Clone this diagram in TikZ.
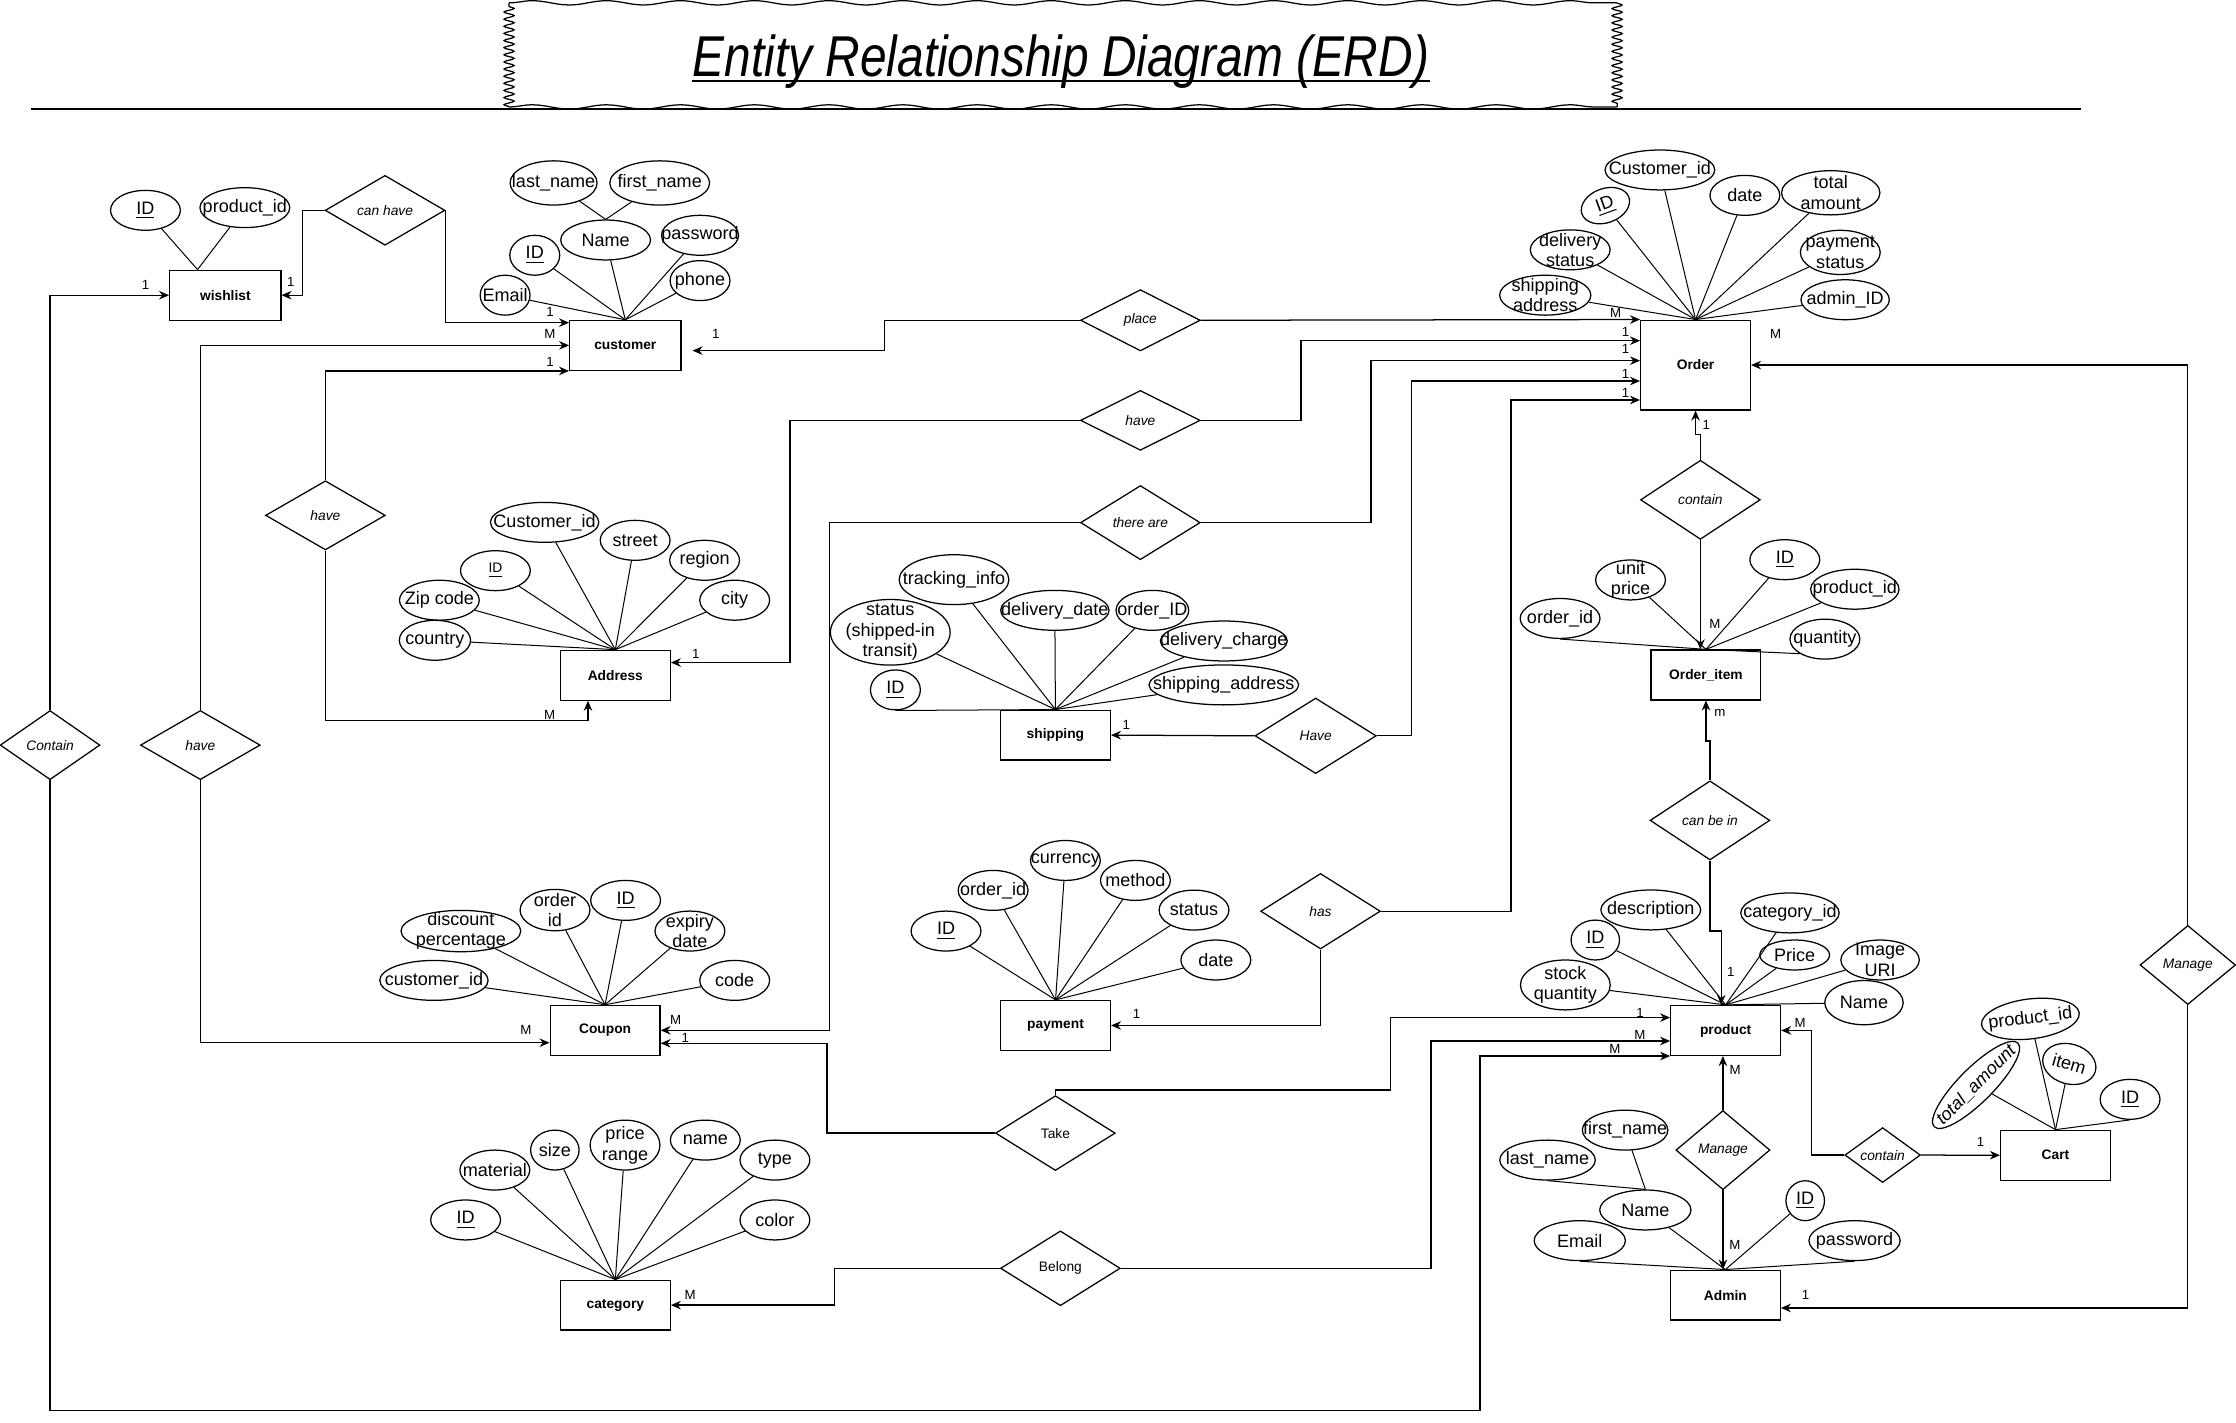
\documentclass[tikz,border=0pt]{standalone}
\usepackage{fontspec}
\setmainfont{Liberation Sans}
\usepackage{graphicx}
\usetikzlibrary{shapes.geometric, arrows.meta, decorations.pathmorphing}

\begin{document}
\begin{tikzpicture}[
        x=0.02cm, y=-0.02cm,
        line width=0.5pt,
        entity/.style={draw, rectangle, inner sep=0pt,
            minimum width=1.54cm, minimum height=0.7cm,
            font=\fontsize{5.5}{6}\selectfont\bfseries},
        rel/.style={draw, diamond, aspect=2, inner sep=-0.6cm,
            minimum width=1.68cm, minimum height=0.98cm,
            font=\fontsize{5.5}{6}\selectfont\itshape},
        att/.style={draw, ellipse, inner sep=-0.6cm,
            minimum width=0.98cm, minimum height=0.56cm,
            align=center, font=\fontsize{7.2}{8.2}\selectfont},
        card/.style={inner sep=0pt, font=\fontsize{5.3}{6}\selectfont},
        conn/.style={-{Stealth[length=4pt,width=3.4pt]}},
        attline/.style={line width=0.4pt}
    ]
    \useasboundingbox (0,0) rectangle (1568,997.2);

    \draw[decorate, decoration={snake, segment length=0.1cm, amplitude=0.07cm}] (357,75) -- (357,2);
    \draw[decorate, decoration={snake, segment length=0.1cm, amplitude=0.07cm}] (1134,2) -- (1134,75);
    \draw[decorate, decoration={snake, segment length=1.04cm, amplitude=0.03cm}] (357,2) -- (1134,2);
    \draw[decorate, decoration={snake, segment length=1.04cm, amplitude=0.03cm}] (357,75) -- (1134,75);
    \draw[line width=0.9pt] (22,76.5) -- (1459,76.5);
    \node[anchor=base, inner sep=0pt, font=\fontsize{23}{26}\selectfont\itshape] (title) at (744,54)
        {\scalebox{0.83}[1]{Entity Relationship Diagram (ERD)}};
    \draw[line width=1.1pt] ([yshift=-1.6pt]title.base west) -- ([yshift=-1.6pt]title.base east);

    \node[entity, minimum width=1.56cm] (wish) at (158,207) {wishlist};
    \node[entity, minimum width=1.56cm] (cust) at (438.5,242.2) {customer};
    \node[entity, minimum height=1.26cm] (ord) at (1189,256) {Order};
    \node[entity] (addr) at (431.5,473.5) {Address};
    \node[entity] (ship) at (740.1,515.5) {shipping};
    \node[entity] (item) at (1196.3,473.3) {Order\_item};
    \node[entity] (coup) at (424.3,722.5) {Coupon};
    \node[entity] (pay) at (740.2,719.1) {payment};
    \node[entity] (prod) at (1210.1,722.6) {product};
    \node[entity] (cat) at (431.5,915.2) {category};
    \node[entity] (adm) at (1209.9,908.2) {Admin};
    \node[entity] (cart) at (1441.4,810.1) {Cart};

    \node[rel] (canhave) at (270,147.5) {can have};
    \node[rel, minimum height=0.86cm] (place) at (799.7,224.6) {place};
    \node[rel, minimum height=0.84cm] (have1) at (799.7,294.8) {have};
    \node[rel, minimum height=1.04cm] (there) at (799.7,366.5) {there are};
    \node[rel, minimum width=1.7cm, minimum height=1.06cm] (have2) at (922.6,516) {Have};
    \node[rel, minimum height=1.06cm] (has) at (926,639) {has};
    \node[rel, minimum height=1.11cm] (contain1) at (1192.4,350.5) {contain};
    \node[rel, minimum height=1.11cm] (canbe) at (1199.1,575.3) {can be in};
    \node[rel, minimum width=1.34cm, minimum height=1.11cm] (manage1) at (1534.2,676.7) {Manage};
    \node[rel, minimum width=1.32cm, minimum height=1.11cm] (manage2) at (1208.2,806.5) {Manage};
    \node[rel, minimum width=1.06cm, minimum height=0.77cm] (contain2) at (1320.2,810) {contain};
    \node[rel, minimum height=1.05cm, font=\fontsize{5.5}{6}\selectfont] (take) at (740.1,794.6) {Take};
    \node[rel, minimum height=1.05cm, font=\fontsize{5.5}{6}\selectfont] (belong) at (743.6,889.4) {Belong};
    \node[rel, minimum width=1.4cm, minimum height=0.97cm] (contain3) at (35.1,522.5) {Contain};
    \node[rel, minimum height=0.97cm] (have3) at (140.5,522.5) {have};
    \node[rel, minimum height=0.97cm] (have4) at (228.2,361.4) {have};

    \node[att] (wID) at (102,147.5) {\underline{ID}};
    \node[att, minimum width=1.26cm] (wPid) at (171.7,145.6) {product\_id};

    \node[att, minimum width=1.22cm, minimum height=0.62cm] (cLast) at (388.2,128.3) {last\_name};
    \node[att, minimum width=1.4cm, minimum height=0.62cm] (cFirst) at (462.6,128.3) {first\_name};
    \node[att, minimum width=1.26cm] (cName) at (424.7,168.3) {Name};
    \node[att, minimum width=1.08cm] (cPass) at (490.9,165) {password};
    \node[att, minimum width=0.7cm] (cID) at (375,179) {\underline{ID}};
    \node[att, minimum width=0.84cm] (cPhone) at (490.9,196.8) {phone};
    \node[att, minimum width=0.7cm] (cEmail) at (354.2,207) {Email};

    \node[att, minimum width=1.54cm] (oCid) at (1164,119.2) {Customer\_id};
    \node[att, rotate=20, minimum width=0.7cm, minimum height=0.48cm] (oID) at (1125.8,144.2) {\underline{ID}};
    \node[att] (oDate) at (1223.6,137) {date};
    \node[att, minimum width=1.38cm, minimum height=0.62cm] (oTotal) at (1283.8,135.2) {total\\amount};
    \node[att, minimum width=1.12cm] (oDel) at (1101.1,175.2) {delivery\\status};
    \node[att, minimum width=1.12cm, minimum height=0.62cm] (oPay) at (1290.5,177) {payment\\status};
    \node[att, minimum width=1.28cm] (oShip) at (1083.6,207) {shipping\\address};
    \node[att, minimum width=1.24cm] (oAdmin) at (1293.9,210.2) {admin\_ID};

    \node[att, minimum width=1.52cm] (aCid) at (381.9,366.3) {Customer\_id};
    \node[att] (aStreet) at (445.4,378.9) {street};
    \node[att] (aRegion) at (494.1,392.9) {region};
    \node[att] (aCity) at (515.2,420.9) {city};
    \node[att, font=\fontsize{5.5}{6}\selectfont] (aID) at (347.4,400.2) {\underline{ID}};
    \node[att, minimum width=1.12cm] (aZip) at (308.1,420.9) {Zip code};
    \node[att, minimum width=1cm] (aCountry) at (305,449) {country};

    \node[att, minimum width=1.54cm, minimum height=0.7cm] (sTrack) at (669,406.5) {tracking\_info};
    \node[att, minimum width=1.68cm, minimum height=0.92cm] (sStatus) at (624.3,443.4) {status\\(shipped-in\\transit)};
    \node[att, minimum width=1.52cm] (sDate) at (739.7,428) {delivery\_date};
    \node[att, minimum width=1.02cm] (sOrder) at (808.1,428) {order\_ID};
    \node[att, minimum width=1.78cm] (sCharge) at (858.2,449.5) {delivery\_charge};
    \node[att, minimum width=2.1cm] (sAddr) at (858.2,480.3) {shipping\_address};
    \node[att, minimum width=0.7cm] (sID) at (627.9,483.8) {\underline{ID}};

    \node[att] (iUnit) at (1143.4,406.7) {unit\\price};
    \node[att] (iID) at (1251.6,392.5) {\underline{ID}};
    \node[att, minimum width=1.24cm] (iPid) at (1300.7,413.2) {product\_id};
    \node[att, minimum width=1.12cm] (iOrder) at (1094,433.7) {order\_id};
    \node[att] (iQty) at (1279.7,448.2) {quantity};

    \node[att, minimum width=1.68cm, minimum height=0.58cm] (qDisc) at (323.2,652.9) {discount\\percentage};
    \node[att, minimum height=0.58cm] (qOrder) at (389.2,638.2) {order\\id};
    \node[att] (qID) at (438.7,631.4) {\underline{ID}};
    \node[att] (qExp) at (483.8,652.9) {expiry\\date};
    \node[att, minimum width=1.52cm] (qCid) at (304.3,687.5) {customer\_id};
    \node[att] (qCode) at (515.2,687.5) {code};

    \node[att] (pID) at (663.4,652.9) {\underline{ID}};
    \node[att] (pOrder) at (696.4,624.4) {order\_id};
    \node[att] (pCur) at (747.1,603.4) {currency};
    \node[att] (pMeth) at (796.2,617.4) {method};
    \node[att] (pStat) at (837.3,638.2) {status};
    \node[att] (pDate) at (852.6,673.2) {date};

    \node[att, minimum width=1.4cm] (dDesc) at (1157.6,638.1) {description};
    \node[att, minimum width=1.38cm] (dCat) at (1255.2,640.2) {category\_id};
    \node[att, minimum width=0.68cm] (dID) at (1118.7,659.2) {\underline{ID}};
    \node[att, minimum height=0.42cm] (dPrice) at (1258.5,669.7) {Price};
    \node[att, minimum width=1.1cm] (dImg) at (1318.4,673.2) {Image\\URI};
    \node[att, minimum width=1.26cm, minimum height=0.7cm] (dStock) at (1097.7,690.7) {stock\\quantity};
    \node[att, minimum width=1.1cm, minimum height=0.62cm] (dName) at (1307.1,703.1) {Name};

    \node[att] (gID) at (326.5,855.5) {\underline{ID}};
    \node[att] (gMat) at (347,820.5) {material};
    \node[att, minimum width=0.68cm] (gSize) at (389.1,806.5) {size};
    \node[att, minimum height=0.7cm] (gPrice) at (438.3,803) {price\\range};
    \node[att] (gName) at (494.6,799.5) {name};
    \node[att] (gType) at (543.4,813.5) {type};
    \node[att] (gColor) at (543.4,855.5) {color};

    \node[att, minimum width=1.2cm] (mFirst) at (1139.6,792.5) {first\_name};
    \node[att, minimum width=1.34cm] (mLast) at (1085.2,813.5) {last\_name};
    \node[att, minimum width=1.28cm] (mName) at (1153.8,848.5) {Name};
    \node[att, minimum width=1.28cm] (mEmail) at (1107.8,870) {Email};
    \node[att, minimum width=0.54cm] (mID) at (1265.9,842) {\underline{ID}};
    \node[att, minimum width=1.28cm] (mPass) at (1300.5,870) {password};

    \node[att, rotate=7, minimum width=1.38cm] (tPid) at (1423.8,714.5) {product\_id};
    \node[att, rotate=45, minimum width=1.66cm, minimum height=0.48cm,
        font=\fontsize{7.2}{8.2}\selectfont\itshape] (tTotal) at (1385.7,760.8) {total\_amount};
    \node[att, rotate=-16, minimum width=0.76cm] (tItem) at (1451.1,746.1) {item};
    \node[att, minimum width=0.84cm] (tID) at (1493.7,770.9) {\underline{ID}};

    \coordinate (wHub) at ([xshift=-0.39cm]wish.north);
    \foreach \a in {wID,wPid} \draw[attline] (\a) -- (wHub);
    \draw[attline] (cLast) -- (cName.north);
    \draw[attline] (cFirst) -- (cName.north);
    \foreach \a in {cEmail,cID,cName,cPass,cPhone} \draw[attline] (\a) -- (cust.north);
    \foreach \a in {oCid,oID,oDate,oTotal,oDel,oPay,oShip,oAdmin} \draw[attline] (\a) -- (ord.north);
    \foreach \a in {aCid,aStreet,aRegion,aCity,aID,aZip,aCountry} \draw[attline] (\a) -- (addr.north);
    \foreach \a in {sTrack,sStatus,sDate,sOrder,sCharge,sAddr} \draw[attline] (\a) -- (ship.north);
    \draw[attline] (sID.south) -- (ship.north);
    \foreach \a in {iUnit,iID,iPid} \draw[attline] (\a) -- (item.north);
    \draw[attline] (iOrder.south) -- (item.north);
    \draw[attline] (iQty.south west) -- (item.north);
    \foreach \a in {qDisc,qOrder,qID,qExp,qCid,qCode} \draw[attline] (\a) -- (coup.north);
    \foreach \a in {pID,pOrder,pCur,pMeth,pStat,pDate} \draw[attline] (\a) -- (pay.north);
    \foreach \a in {dDesc,dCat,dID,dPrice,dImg,dStock,dName} \draw[attline] (\a) -- (prod.north);
    \foreach \a in {gID,gMat,gSize,gPrice,gName,gType,gColor} \draw[attline] (\a) -- (cat.north);
    \draw[attline] (mFirst) -- (mName.north);
    \draw[attline] (mLast.south) -- (mName.north);
    \foreach \a in {mName,mID} \draw[attline] (\a) -- (adm.north);
    \draw[attline] (mEmail.south) -- (adm.north);
    \draw[attline] (mPass.south) -- (adm.north);
    \foreach \a in {tPid,tTotal,tItem} \draw[attline] (\a) -- (cart.north);
    \draw[attline] (tID.south) -- (cart.north);

    \draw[conn] (canhave.west) -- ++(-15.5,0) |- (wish.east);
    \draw[conn] (canhave.east) |- ([yshift=-0.04cm]cust.north west);
    \draw[conn] (have3.north) |- (cust.west);
    \draw[conn] (have4.north) |- (cust.south west);
    \draw[conn] (place.west) -- ++(-136.8,0) |- ([xshift=0.154cm,yshift=-0.074cm]cust.east);
    \draw[conn] (place.east) -- (ord.north west);
    \draw[conn] (have1.east) -- ++(70.1,0) |- ([yshift=0.342cm]ord.west);
    \draw[conn] (have1.west) -- ++(-203.3,0) |- ([yshift=0.178cm]addr.east);
    \draw[conn] (there.east) -- ++(119.3,0) |- ([yshift=0.062cm]ord.west);
    \draw[conn] (there.west) -- ++(-175.4,0) |- (coup.east);
    \draw[conn] (have2.east) -- ++(24.2,0) |- ([yshift=-0.224cm]ord.west);
    \draw[conn] (have2.west) -- (ship.east);
    \draw[conn] (has.east) -- ++(91.2,0) |- ([yshift=-0.49cm]ord.west);
    \draw[conn] (has.south) |- (pay.east);
    \draw[conn] (contain1.north) -- ++(0,-17.7) -| (ord.south);
    \draw[conn] (contain1.south) -- (contain1.south |- item.north);
    \draw[conn] (canbe.north) -- ++(0,-27.5) -| (item.south);
    \draw[conn] (canbe.south) -- ++(0,49.4) -| ([xshift=-0.062cm]prod.north);
    \draw[conn] (manage1.north) |- (ord.east);
    \draw[conn] (manage1.south) |- ([yshift=-0.18cm]adm.east);
    \draw[conn] (manage2.north) -- (manage2.north |- prod.south);
    \draw[conn] (manage2.south) -- (manage2.south |- adm.north);
    \draw[conn] (contain2.west) -- ++(-22.9,0) |- (prod.east);
    \draw[conn] (contain2.east) -- (cart.west);
    \draw[conn] (take.west) -- ++(-117.7,0) |- ([yshift=-0.182cm]coup.east);
    \draw[conn] (take.north) -- ++(0,-3.5) -- ++(235.1,0) |- ([yshift=0.18cm]prod.west);
    \draw[conn] (belong.west) -- ++(-116,0) |- (cat.east);
    \draw[conn] (belong.east) -- ++(217.5,0) |- ([yshift=-0.148cm]prod.west);
    \draw[conn] (contain3.north) |- (wish.west);
    \draw[conn] (contain3.south) -- ++(0,441.7) -- ++(1002.8,0) |- (prod.south west);
    \draw[conn] (have3.south) |- ([yshift=-0.174cm]coup.west);
    \draw[conn] (have4.south) -- ++(0,119.3) -| ([xshift=-0.384cm]addr.south);

    \foreach \lab/\x/\y [count=\i] in {
        1/204/198, 1/385.7/219, M/385.7/234.5, 1/385.7/254, 1/502/234.5,
        M/1133/219.2, 1/1140/233, 1/1140/245, 1/1140/262.4, 1/1140/275.2,
        1/487.9/458.3, M/473.8/715.3, 1/789.8/508.3, 1/797/711.3, 1/1196.5/297.7,
        M/1202.6/437.5, m/1206/500, 1/1213.7/681.8, M/1245.2/234.5, 1/1266.2/908.1,
        M/1216.7/750.3, M/1216.6/872.8, M/1262.3/717.1, 1/1388.9/801, 1/480.6/728.1,
        1/1150/710.6, M/484/908.1, M/1150/726, 1/102/200, M/1132.5/735.8,
        M/368.7/722.3, M/385.5/501.3}
        \node[card] (l\i) at (\x,\y) {\lab};
\end{tikzpicture}
\end{document}
